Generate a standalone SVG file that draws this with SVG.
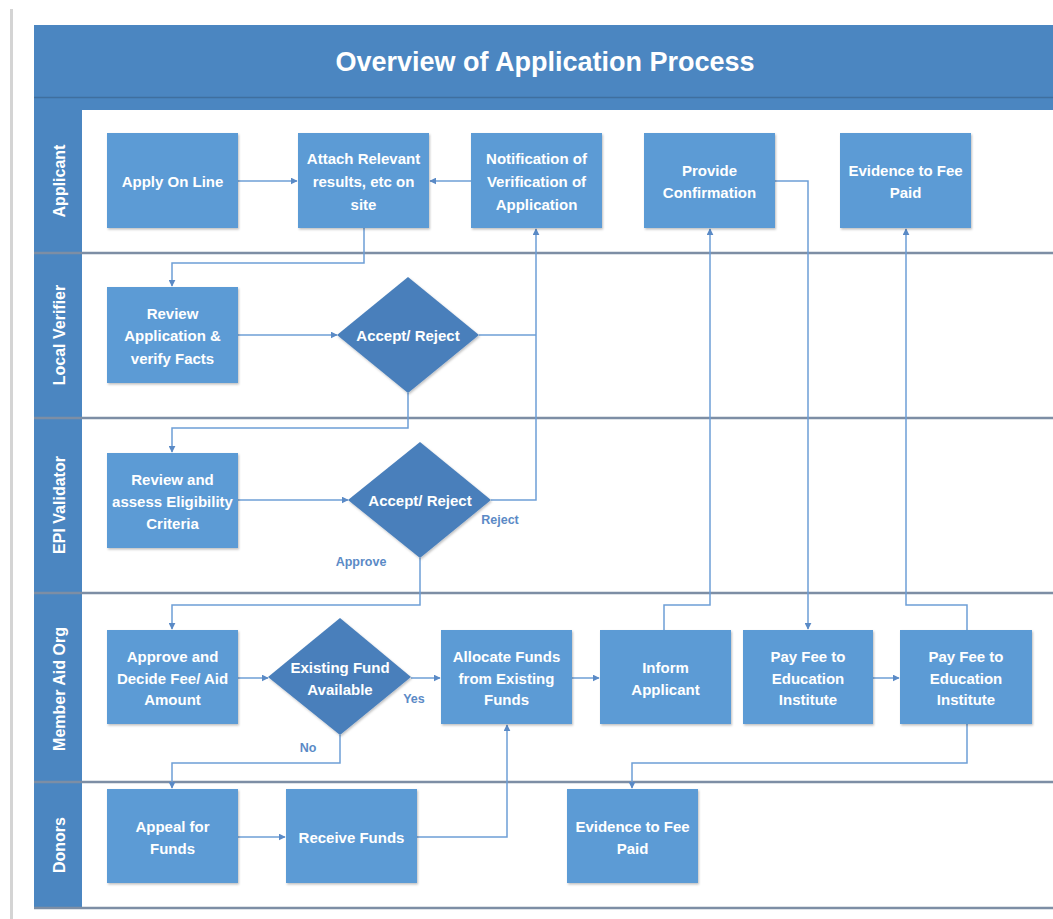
<svg xmlns="http://www.w3.org/2000/svg" width="1053" height="919" viewBox="0 0 1053 919">
<defs>
<marker id="ah" viewBox="0 0 10 10" refX="9" refY="5" markerWidth="7" markerHeight="7" orient="auto" markerUnits="userSpaceOnUse">
<path d="M0,0 L10,5 L0,10 z" fill="#5a8ac6"/>
</marker>
<filter id="sh" x="-10%" y="-10%" width="130%" height="130%">
<feDropShadow dx="1" dy="1.5" stdDeviation="1.2" flood-color="#000" flood-opacity="0.25"/>
</filter>
</defs>
<style>
.box{fill:#5b9bd5;filter:url(#sh)}
.dia{fill:#4a7fbb;filter:url(#sh)}
.t{fill:#fff;font-family:"Liberation Sans",Arial,sans-serif;font-weight:bold;font-size:15px;text-anchor:middle;dominant-baseline:central}
.lane{fill:#fff;font-family:"Liberation Sans",Arial,sans-serif;font-weight:bold;font-size:16px;text-anchor:middle;dominant-baseline:central}
.sep{stroke:#7d8ea5;stroke-width:2.5;fill:none}
.c{stroke:#6e9fd6;stroke-width:1.5;fill:none}
.lbl{fill:#5b8ac6;font-family:"Liberation Sans",Arial,sans-serif;font-weight:bold;font-size:12.5px;text-anchor:middle;dominant-baseline:central}
</style>
<rect width="1053" height="919" fill="#fff"/>
<rect x="10" y="9" width="3" height="910" fill="#d4d4d4"/>
<g id="frame">
<rect x="34" y="25" width="1019" height="85" fill="#4b86c1"/>
<line x1="34" y1="97.5" x2="1053" y2="97.5" stroke="#3f6f9f" stroke-width="1.5"/>
<rect x="34" y="110" width="48" height="798" fill="#4b86c1"/>
<text x="545" y="62" fill="#fff" font-family="Liberation Sans, Arial, sans-serif" font-weight="bold" font-size="27" text-anchor="middle" dominant-baseline="central">Overview of Application Process</text>
<line class="sep" x1="34" y1="253" x2="1053" y2="253"/>
<line class="sep" x1="34" y1="418" x2="1053" y2="418"/>
<line class="sep" x1="34" y1="593" x2="1053" y2="593"/>
<line class="sep" x1="34" y1="782" x2="1053" y2="782"/>
<line class="sep" x1="34" y1="908" x2="1053" y2="908"/>
<text class="lane" transform="translate(59,181) rotate(-90)">Applicant</text>
<text class="lane" transform="translate(59,335) rotate(-90)">Local Verifier</text>
<text class="lane" transform="translate(59,505) rotate(-90)">EPI Validator</text>
<text class="lane" transform="translate(59,689) rotate(-90)">Member Aid Org</text>
<text class="lane" transform="translate(59,845) rotate(-90)">Donors</text>
</g>
<g id="connectors">
<line class="c" x1="238" y1="181" x2="297" y2="181" marker-end="url(#ah)"/>
<line class="c" x1="471" y1="181" x2="430" y2="181" marker-end="url(#ah)"/>
<polyline class="c" points="364,228 364,263 172,263 172,286" marker-end="url(#ah)"/>
<line class="c" x1="238" y1="335" x2="337" y2="335" marker-end="url(#ah)"/>
<polyline class="c" points="479,335 536,335"/>
<polyline class="c" points="491,500 536,500 536,229" marker-end="url(#ah)"/>
<polyline class="c" points="408,393 408,428 172,428 172,452" marker-end="url(#ah)"/>
<line class="c" x1="238" y1="500" x2="348" y2="500" marker-end="url(#ah)"/>
<polyline class="c" points="420,558 420,605 172,605 172,629" marker-end="url(#ah)"/>
<line class="c" x1="238" y1="678" x2="268" y2="678" marker-end="url(#ah)"/>
<line class="c" x1="411" y1="678" x2="440" y2="678" marker-end="url(#ah)"/>
<polyline class="c" points="340,735 340,763 172,763 172,788" marker-end="url(#ah)"/>
<line class="c" x1="238" y1="837" x2="285" y2="837" marker-end="url(#ah)"/>
<polyline class="c" points="417,837 507,837 507,725" marker-end="url(#ah)"/>
<line class="c" x1="572" y1="678" x2="599" y2="678" marker-end="url(#ah)"/>
<polyline class="c" points="664,630 664,605 710,605 710,229" marker-end="url(#ah)"/>
<polyline class="c" points="775,181 808,181 808,629" marker-end="url(#ah)"/>
<line class="c" x1="873" y1="678" x2="899" y2="678" marker-end="url(#ah)"/>
<polyline class="c" points="967,630 967,605 906,605 906,229" marker-end="url(#ah)"/>
<polyline class="c" points="967,724 967,763 632,763 632,788" marker-end="url(#ah)"/>
<text class="lbl" x="500" y="520">Reject</text>
<text class="lbl" x="361" y="562">Approve</text>
<text class="lbl" x="414" y="699">Yes</text>
<text class="lbl" x="308" y="748">No</text>
</g>
<g id="apply"><rect class="box" x="107" y="133" width="131" height="95"/><text class="t" x="172.5" y="181">Apply On Line</text></g>
<g id="attach"><rect class="box" x="298" y="133" width="131" height="95"/><text class="t" x="363.5" y="158">Attach Relevant</text><text class="t" x="363.5" y="181">results, etc on</text><text class="t" x="363.5" y="204">site</text></g>
<g id="notification"><rect class="box" x="471" y="133" width="131" height="95"/><text class="t" x="536.5" y="158">Notification of</text><text class="t" x="536.5" y="181">Verification of</text><text class="t" x="536.5" y="204">Application</text></g>
<g id="confirm"><rect class="box" x="644" y="133" width="131" height="95"/><text class="t" x="709.5" y="170">Provide</text><text class="t" x="709.5" y="192">Confirmation</text></g>
<g id="evidence1"><rect class="box" x="840" y="133" width="131" height="95"/><text class="t" x="905.5" y="170">Evidence to Fee</text><text class="t" x="905.5" y="192">Paid</text></g>
<g id="review"><rect class="box" x="107" y="287" width="131" height="96"/><text class="t" x="172.5" y="313">Review</text><text class="t" x="172.5" y="335">Application &amp;</text><text class="t" x="172.5" y="358">verify Facts</text></g>
<g id="decision1"><polygon class="dia" points="408,277 479,335 408,393 337,335"/><text class="t" x="408" y="335">Accept/ Reject</text></g>
<g id="assess"><rect class="box" x="107" y="453" width="131" height="95"/><text class="t" x="172.5" y="479">Review and</text><text class="t" x="172.5" y="501">assess Eligibility</text><text class="t" x="172.5" y="523">Criteria</text></g>
<g id="decision2"><polygon class="dia" points="420,442 491,500 420,558 348,500"/><text class="t" x="420" y="500">Accept/ Reject</text></g>
<g id="approve"><rect class="box" x="107" y="630" width="131" height="94"/><text class="t" x="172.5" y="656">Approve and</text><text class="t" x="172.5" y="678">Decide Fee/ Aid</text><text class="t" x="172.5" y="699">Amount</text></g>
<g id="decision3"><polygon class="dia" points="340,618 411,677 340,735 268,677"/><text class="t" x="340" y="667">Existing Fund</text><text class="t" x="340" y="689">Available</text></g>
<g id="allocate"><rect class="box" x="441" y="630" width="131" height="94"/><text class="t" x="506.5" y="656">Allocate Funds</text><text class="t" x="506.5" y="678">from Existing</text><text class="t" x="506.5" y="699">Funds</text></g>
<g id="inform"><rect class="box" x="600" y="630" width="131" height="94"/><text class="t" x="665.5" y="667">Inform</text><text class="t" x="665.5" y="689">Applicant</text></g>
<g id="payfee1"><rect class="box" x="743" y="630" width="130" height="94"/><text class="t" x="808" y="656">Pay Fee to</text><text class="t" x="808" y="678">Education</text><text class="t" x="808" y="699">Institute</text></g>
<g id="payfee2"><rect class="box" x="900" y="630" width="132" height="94"/><text class="t" x="966" y="656">Pay Fee to</text><text class="t" x="966" y="678">Education</text><text class="t" x="966" y="699">Institute</text></g>
<g id="appeal"><rect class="box" x="107" y="789" width="131" height="94"/><text class="t" x="172.5" y="826">Appeal for</text><text class="t" x="172.5" y="848">Funds</text></g>
<g id="receive"><rect class="box" x="286" y="789" width="131" height="94"/><text class="t" x="351.5" y="837">Receive Funds</text></g>
<g id="evidence2"><rect class="box" x="567" y="789" width="131" height="94"/><text class="t" x="632.5" y="826">Evidence to Fee</text><text class="t" x="632.5" y="848">Paid</text></g>
</svg>
